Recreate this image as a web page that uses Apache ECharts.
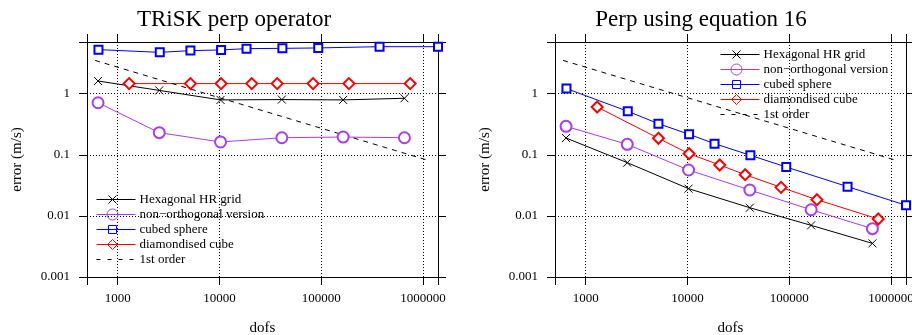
<!DOCTYPE html>
<html>
<head>
<meta charset="utf-8">
<script src="https://cdn.jsdelivr.net/npm/echarts@6/dist/echarts.min.js"></script>
<style>
  html, body { margin: 0; padding: 0; background: #fff; }
  #chart { width: 912px; height: 335px; }
</style>
</head>
<body>
<div id="chart"></div>
<script>
// dofs for each grid family
var hexDofs = [642, 2562, 10242, 40962, 163842, 655362];
var cubedDofs = [648, 2592, 5184, 10368, 18432, 41472, 93312, 373248, 1400000];
var diamondDofs = [1296, 5184, 10368, 20736, 36864, 82944, 186624, 746496];
var orderDofs = [600, 1080000];

// TRiSK perp operator (left)
var triskHex = [1.61, 1.13, 0.79, 0.80, 0.79, 0.84];
var triskNonOrth = [0.71, 0.23, 0.162, 0.19, 0.195, 0.19];
var triskCubed = [5.25, 4.74, 5.06, 5.19, 5.45, 5.51, 5.6, 5.87, 5.87];
var triskDiamond = [1.46, 1.46, 1.46, 1.46, 1.46, 1.46, 1.46, 1.46];

// Perp using equation 16 (right)
var eqHex = [0.188, 0.0743, 0.0279, 0.0136, 0.0070, 0.00355];
var eqNonOrth = [0.292, 0.148, 0.0563, 0.0265, 0.0126, 0.00618];
var eqCubed = [1.21, 0.514, 0.323, 0.216, 0.152, 0.098, 0.063, 0.0301, 0.0149];
var eqDiamond = [0.605, 0.186, 0.104, 0.068, 0.0472, 0.0293, 0.0184, 0.0089];

var firstOrder = [3.5, 0.0825];

var titles = ['TRiSK perp operator', 'Perp using equation 16'];
var names = ['Hexagonal HR grid', 'non\u2212orthogonal version', 'cubed sphere', 'diamondised cube', '1st order'];

var FONT = 'Liberation Serif';
var purple = '#a83cf0';
var colors = ['#000', purple, '#0000ff', '#ff0000', '#000'];

// legend icons: line + marker in one path (39 x 11 box)
var base = 'path://M0,0M39,11M0,5.5L39,5.5';
var legendIcons = [
  base + 'M12,1.5L20,9.5M20,1.5L12,9.5',
  base + 'M21.5,5.5A5.5,5.5,0,1,1,10.5,5.5A5.5,5.5,0,1,1,21.5,5.5',
  base + 'M12,1.5L20,1.5L20,9.5L12,9.5Z',
  base + 'M16,0.5L21,5.5L16,10.5L11,5.5Z',
  'path://M0,0M39,11M0,5.5L4,5.5M11,5.5L15,5.5M22,5.5L26,5.5M33,5.5L37,5.5'
];

function zip(xs, ys) {
  return xs.map(function (x, i) { return [x, ys[i]]; });
}
function isDecade(v) {
  var l = Math.log10(v);
  return Math.abs(l - Math.round(l)) < 1e-6;
}

var chart = echarts.init(document.getElementById('chart'));

var grids = [
  { left: 87, top: 42, width: 351, height: 235, outerBoundsMode: 'none', containLabel: false },
  { left: 555, top: 42, width: 351, height: 235, outerBoundsMode: 'none', containLabel: false }
];

var xAxes = [], yAxes = [], series = [], legends = [];

function xAxis(g, pos, show) {
  return {
    type: 'log', gridIndex: g, position: pos, min: 500, max: 1400000, logBase: 10,
    name: show ? 'dofs' : '', nameLocation: 'middle', nameGap: 44,
    nameTextStyle: { fontFamily: FONT, fontSize: 15, color: '#000' },
    axisLine: { show: true, lineStyle: { color: '#000', width: 1 } },
    axisTick: { show: true, inside: false, length: 8, lineStyle: { color: '#000' } },
    minorTick: { show: false },
    axisLabel: {
      show: show, margin: 15, fontFamily: FONT, fontSize: 13, color: '#000',
      formatter: function (v) { return isDecade(v) ? String(Math.round(v)) : ''; }
    },
    splitLine: { show: show, lineStyle: { color: '#000', type: [1, 2], width: 1 } }
  };
}
function yAxis(g, pos, show) {
  return {
    type: 'log', gridIndex: g, position: pos, min: 0.001, max: 7, logBase: 10,
    name: show ? 'error (m/s)' : '', nameLocation: 'middle', nameGap: 62,
    nameTextStyle: { fontFamily: FONT, fontSize: 15, color: '#000' },
    axisLine: { show: true, lineStyle: { color: '#000', width: 1 } },
    axisTick: { show: true, inside: false, length: 8, lineStyle: { color: '#000' } },
    minorTick: { show: false },
    axisLabel: {
      show: show, margin: 17, fontFamily: FONT, fontSize: 13, color: '#000',
      formatter: function (v) {
        if (!isDecade(v)) return '';
        return v >= 1 ? String(Math.round(v)) : v.toPrecision(1);
      }
    },
    splitLine: { show: show, lineStyle: { color: '#000', type: [1, 2], width: 1 } }
  };
}

var crossPath = 'path://M0,0L10,10M10,0L0,10';

function addSeries(g, hex, nonOrth, cubed, diamond) {
  var common = { type: 'line', xAxisIndex: g * 2, yAxisIndex: g * 2, animation: false };
  series.push(Object.assign({}, common, {
    name: names[0] + g, data: zip(hexDofs, hex), symbol: crossPath, symbolSize: 8,
    color: colors[0], lineStyle: { color: colors[0], width: 1 },
    itemStyle: { color: colors[0], borderColor: colors[0], borderWidth: 1 }
  }));
  series.push(Object.assign({}, common, {
    name: names[1] + g, data: zip(hexDofs, nonOrth), symbol: 'emptyCircle', symbolSize: 11,
    color: colors[1], lineStyle: { color: colors[1], width: 1 },
    itemStyle: { color: colors[1], borderColor: colors[1], borderWidth: 1 }
  }));
  series.push(Object.assign({}, common, {
    name: names[2] + g, data: zip(cubedDofs, cubed), symbol: 'emptyRect', symbolSize: 8, clip: false,
    color: colors[2], lineStyle: { color: colors[2], width: 1 },
    itemStyle: { color: colors[2], borderColor: colors[2], borderWidth: 1 }
  }));
  series.push(Object.assign({}, common, {
    name: names[3] + g, data: zip(diamondDofs, diamond), symbol: 'emptyDiamond', symbolSize: 11,
    color: colors[3], lineStyle: { color: colors[3], width: 1 },
    itemStyle: { color: colors[3], borderColor: colors[3], borderWidth: 1 }
  }));
  series.push(Object.assign({}, common, {
    name: names[4] + g, data: zip(orderDofs, firstOrder), symbol: 'none',
    color: colors[4], lineStyle: { color: colors[4], width: 1, type: [5, 5] }
  }));
}

[0, 1].forEach(function (g) {
  xAxes.push(xAxis(g, 'bottom', true));
  xAxes.push(xAxis(g, 'top', false));
  yAxes.push(yAxis(g, 'left', true));
  yAxes.push(yAxis(g, 'right', false));
});

addSeries(0, triskHex, triskNonOrth, triskCubed, triskDiamond);
addSeries(1, eqHex, eqNonOrth, eqCubed, eqDiamond);

[[96, 192], [720, 47]].forEach(function (pos, g) {
  legends.push({
    left: pos[0], top: pos[1], orient: 'vertical',
    itemWidth: 39, itemHeight: 11, itemGap: 0,
    data: names.map(function (n, i) {
      return {
        name: n + g, icon: legendIcons[i],
        itemStyle: { color: 'rgba(0,0,0,0)', borderColor: colors[i], borderWidth: 1 }
      };
    }),
    formatter: function (n) { return n.slice(0, -1); },
    textStyle: { fontFamily: FONT, fontSize: 13, color: '#000', lineHeight: 15, padding: [0, 0, 0, -1] },
    padding: 0, selectedMode: false
  });
});

chart.setOption({
  backgroundColor: '#fff',
  animation: false,
  title: [
    { text: titles[0], left: 229, top: 3, textAlign: 'center',
      textStyle: { fontFamily: FONT, fontSize: 23, fontWeight: 'normal', color: '#000' } },
    { text: titles[1], left: 696, top: 3, textAlign: 'center',
      textStyle: { fontFamily: FONT, fontSize: 23, fontWeight: 'normal', color: '#000' } }
  ],
  grid: grids,
  xAxis: xAxes,
  yAxis: yAxes,
  legend: legends,
  series: series
});
</script>
</body>
</html>
